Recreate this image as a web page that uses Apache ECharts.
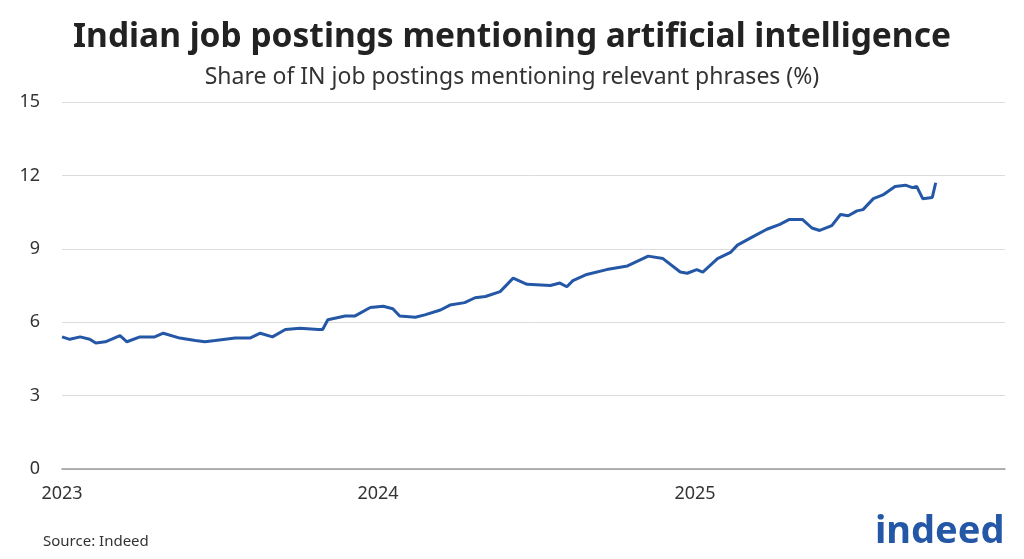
<!DOCTYPE html><html><head><meta charset="utf-8"><script src="https://cdn.jsdelivr.net/npm/echarts@6/dist/echarts.min.js"></script>
<style>html,body{margin:0;background:#fff}#c{width:1024px;height:559px}</style></head><body><div id="c"></div><script>
const dates=['2023-01-01','2023-01-10','2023-01-22','2023-02-02','2023-02-09','2023-02-20','2023-03-09','2023-03-17','2023-04-01','2023-04-18','2023-04-28','2023-05-17','2023-06-04','2023-06-15','2023-06-27','2023-07-20','2023-08-06','2023-08-18','2023-09-01','2023-09-16','2023-10-03','2023-10-24','2023-10-29','2023-11-04','2023-11-24','2023-12-05','2023-12-23','2024-01-07','2024-01-18','2024-01-26','2024-02-13','2024-02-24','2024-03-13','2024-03-24','2024-04-10','2024-04-22','2024-05-04','2024-05-21','2024-06-05','2024-06-21','2024-07-18','2024-07-29','2024-08-06','2024-08-13','2024-08-29','2024-09-21','2024-10-15','2024-11-08','2024-11-25','2024-12-15','2024-12-23','2025-01-03','2025-01-10','2025-01-27','2025-02-11','2025-02-19','2025-03-09','2025-03-25','2025-04-09','2025-04-20','2025-05-05','2025-05-16','2025-05-25','2025-06-08','2025-06-18','2025-06-27','2025-07-07','2025-07-14','2025-07-26','2025-08-06','2025-08-20','2025-09-01','2025-09-09','2025-09-14','2025-09-21','2025-10-02','2025-10-06'];
const values=[5.4,5.3,5.4,5.3,5.15,5.2,5.45,5.2,5.4,5.4,5.55,5.35,5.25,5.2,5.25,5.35,5.35,5.55,5.4,5.7,5.75,5.7,5.7,6.1,6.25,6.25,6.6,6.65,6.55,6.25,6.2,6.3,6.5,6.7,6.8,7.0,7.05,7.25,7.8,7.55,7.5,7.6,7.45,7.7,7.95,8.15,8.3,8.7,8.6,8.05,8.0,8.15,8.05,8.6,8.85,9.15,9.5,9.8,10.0,10.2,10.2,9.85,9.75,9.95,10.4,10.35,10.55,10.6,11.05,11.2,11.55,11.6,11.5,11.55,11.05,11.1,11.7];
const yTicks=[0,3,6,9,12,15];
const data=dates.map((d,i)=>[d,values[i]]);
const ch=echarts.init(document.getElementById('c'));
ch.setOption({
 animation:false,
 textStyle:{fontFamily:'Noto Sans'},
 title:[{text:'Indian job postings mentioning artificial intelligence',left:'center',top:15,textStyle:{fontSize:33.5,fontWeight:'bold',color:'#222',fontFamily:'Noto Sans'}},
 {text:'Share of IN job postings mentioning relevant phrases (%)',left:'center',top:61,textStyle:{fontSize:23,fontWeight:'normal',color:'#333',fontFamily:'Noto Sans'}},
 {text:'Source: Indeed',left:38,top:529,textStyle:{fontSize:15,fontWeight:'normal',color:'#333'}},
 {text:'indeed',left:870,top:508,textStyle:{fontSize:38,fontWeight:'bold',color:'#2557a7',fontFamily:'Noto Sans'}}],
 grid:{left:62,right:19,top:102,bottom:90},
 xAxis:{type:'time',min:'2023-01-01',max:'2025-12-25',minInterval:365*86400000,
  axisLine:{lineStyle:{color:'#999',width:1.5}},axisTick:{show:false},splitLine:{show:false},
  axisLabel:{fontSize:18,color:'#333',margin:16,formatter:{year:'{yyyy}',month:'',day:'',hour:'',minute:'',second:'',millisecond:''}}},
 yAxis:{type:'value',min:0,max:15,interval:3,
  axisLabel:{fontSize:18,color:'#333',margin:22},
  splitLine:{lineStyle:{color:'#dcdcdc'}},axisLine:{show:false},axisTick:{show:false}},
 series:[{type:'line',data:data,showSymbol:false,smooth:false,lineStyle:{color:'#2557a7',width:3}}]
});
</script></body></html>
